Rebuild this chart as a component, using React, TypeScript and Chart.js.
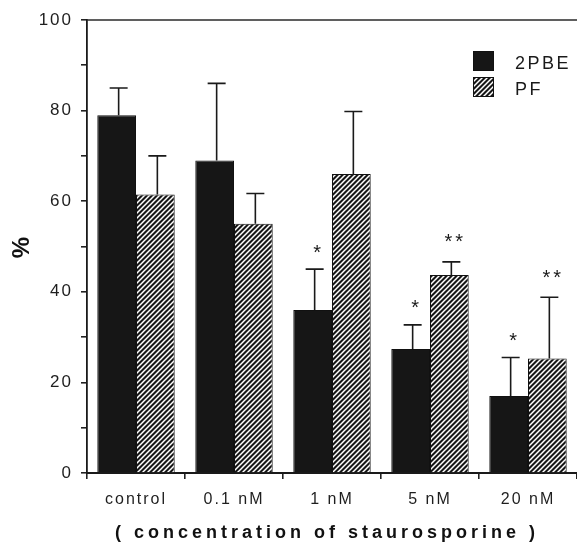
import { useEffect, useRef } from 'react';
import { Chart, registerables } from 'chart.js';

Chart.register(...registerables);

const categories = ['control', '0.1 nM', '1 nM', '5 nM', '20 nM'];
const seriesNames = ['2PBE', 'PF'];
const pbeValues = [79, 69, 36, 27.4, 17];
const pbeErrors = [6, 17, 9, 5.3, 8.5];
const pfValues = [61.5, 55, 66, 43.7, 25.3];
const pfErrors = [8.5, 6.7, 13.8, 2.9, 13.5];
const pbeMarks = ['', '', '*', '*', '*'];
const pfMarks = ['', '', '', '**', '**'];
const yTickLabels = [0, 20, 40, 60, 80, 100];
const xTitle = '( concentration of staurosporine )';
const yTitle = '%';

const FONT = '"Liberation Sans", Arial, Helvetica, sans-serif';
const INK = '#161616';

function makeHatch(): CanvasPattern | string {
  const s = 5;
  const c = document.createElement('canvas');
  c.width = s;
  c.height = s;
  const g = c.getContext('2d');
  if (!g) return INK;
  g.fillStyle = INK;
  g.fillRect(0, 0, s, s);
  g.strokeStyle = '#ffffff';
  g.lineWidth = 1.5;
  g.beginPath();
  g.moveTo(-1, s + 1);
  g.lineTo(s + 1, -1);
  g.moveTo(-1, 1);
  g.lineTo(1, -1);
  g.moveTo(s - 1, s + 1);
  g.lineTo(s + 1, s - 1);
  g.stroke();
  const p = g.createPattern(c, 'repeat');
  return p || INK;
}

export default function App() {
  const ref = useRef<HTMLCanvasElement | null>(null);

  useEffect(() => {
    const canvas = ref.current;
    if (!canvas) return;
    const hatch = makeHatch();
    const errors = [pbeErrors, pfErrors];
    const marks = [pbeMarks, pfMarks];
    const fills = [INK, hatch];

    const deco = {
      id: 'deco',
      beforeLayout(chart: any) {
        (chart.ctx as any).letterSpacing = '2px';
      },
      beforeDraw(chart: any) {
        (chart.ctx as any).letterSpacing = '2px';
      },
      afterDatasetsDraw(chart: any) {
        const ctx = chart.ctx as CanvasRenderingContext2D;
        const yScale = chart.scales.y;
        ctx.save();
        (ctx as any).letterSpacing = '3px';
        ctx.strokeStyle = '#1a1a1a';
        ctx.lineWidth = 1.6;
        chart.data.datasets.forEach((ds: any, i: number) => {
          const meta = chart.getDatasetMeta(i);
          meta.data.forEach((bar: any, j: number) => {
            const v = ds.data[j];
            const top = yScale.getPixelForValue(v + errors[i][j]);
            const x = bar.x + 2;
            ctx.beginPath();
            ctx.moveTo(x, bar.y);
            ctx.lineTo(x, top);
            ctx.moveTo(x - 9, top);
            ctx.lineTo(x + 9, top);
            ctx.stroke();
            const m = marks[i][j];
            if (m) {
              ctx.fillStyle = '#1a1a1a';
              ctx.font = `20px ${FONT}`;
              ctx.textAlign = 'center';
              ctx.textBaseline = 'alphabetic';
              const yc = top - (m.length > 1 ? 25 : 22);
              ctx.fillText(m, x + 4, yc + 11.5);
            }
          });
        });
        ctx.restore();
      },
      afterDraw(chart: any) {
        const ctx = chart.ctx as CanvasRenderingContext2D;
        const area = chart.chartArea;
        ctx.save();
        // top frame line
        ctx.strokeStyle = '#2a2a2a';
        ctx.lineWidth = 1.6;
        ctx.beginPath();
        ctx.moveTo(area.left, area.top);
        ctx.lineTo(area.right, area.top);
        ctx.stroke();
        // legend
        const lx = area.right - 104;
        const ly = area.top + 31;
        seriesNames.forEach((name, i) => {
          const by = ly + i * 26;
          ctx.fillStyle = fills[i] as any;
          ctx.fillRect(lx, by, 21, 20);
          ctx.strokeStyle = '#111';
          ctx.lineWidth = 1;
          ctx.strokeRect(lx + 0.5, by + 0.5, 20, 19);
          ctx.fillStyle = '#1a1a1a';
          ctx.font = `18px ${FONT}`;
          (ctx as any).letterSpacing = '2.5px';
          ctx.textAlign = 'left';
          ctx.textBaseline = 'alphabetic';
          ctx.fillText(name, lx + 42, by + 18);
        });
        // x title
        ctx.font = `bold 18px ${FONT}`;
        (ctx as any).letterSpacing = '4px';
        ctx.textAlign = 'center';
        ctx.fillStyle = '#111';
        ctx.fillText(xTitle, (area.left + area.right) / 2 - 5, 538);
        ctx.restore();
      },
    };

    const chart = new Chart(canvas, {
      type: 'bar',
      data: {
        labels: categories,
        datasets: [
          {
            label: seriesNames[0],
            data: pbeValues,
            backgroundColor: INK,
            borderColor: '#111',
            borderWidth: 1,
            categoryPercentage: 0.79,
            barPercentage: 1,
          },
          {
            label: seriesNames[1],
            data: pfValues,
            backgroundColor: hatch as any,
            borderColor: '#111',
            borderWidth: 1,
            categoryPercentage: 0.79,
            barPercentage: 1,
          },
        ],
      },
      options: {
        animation: false,
        responsive: false,
        devicePixelRatio: 1,
        layout: { padding: { top: 20, right: 0, left: 0, bottom: 0 } },
        plugins: {
          legend: { display: false },
          tooltip: { enabled: false },
        },
        scales: {
          x: {
            grid: {
              display: true,
              drawOnChartArea: false,
              drawTicks: true,
              tickLength: 6,
              offset: true,
              color: '#222',
              lineWidth: 1.6,
            },
            border: { display: true, color: '#1a1a1a', width: 2 },
            ticks: {
              font: { family: FONT, size: 16 },
              color: '#1e1e1e',
              padding: 11,
              maxRotation: 0,
              autoSkip: false,
            },
            afterFit: (s: any) => {
              s.height = 74;
            },
          },
          y: {
            min: 0,
            max: 100,
            ticks: {
              stepSize: 10,
              autoSkip: false,
              font: { family: FONT, size: 17 },
              color: '#1e1e1e',
              padding: 8,
              callback: (v: any) => (yTickLabels.includes(Number(v)) ? String(v) : ''),
            },
            grid: {
              drawOnChartArea: false,
              drawTicks: true,
              tickLength: 6,
              color: '#222',
              lineWidth: 1.6,
            },
            border: { display: true, color: '#1a1a1a', width: 1.8 },
            title: {
              display: true,
              text: yTitle,
              font: { family: FONT, size: 24, weight: 'bold' },
              color: '#111',
              padding: { top: 8, bottom: 0 },
            },
            afterFit: (s: any) => {
              s.width = 87;
            },
          },
        },
      },
      plugins: [deco],
    });

    return () => {
      chart.destroy();
    };
  }, []);

  return (
    <div style={{ position: 'fixed', left: 0, top: 0, width: 577, height: 547, background: '#fff' }}>
      <canvas ref={ref} width={577} height={547} style={{ width: 577, height: 547, display: 'block' }} />
    </div>
  );
}
